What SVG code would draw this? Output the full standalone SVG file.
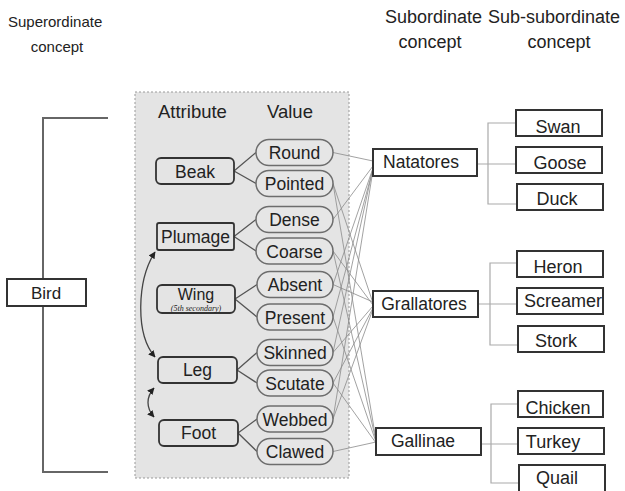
<svg xmlns="http://www.w3.org/2000/svg" width="625" height="491" viewBox="0 0 625 491">
  <defs>
    <style>
      text { font-family: "Liberation Sans", Arial, sans-serif; fill: #222; }
      .hdr { font-size: 15px; }
      .hdr2 { font-size: 18px; }
      .col { font-size: 18.5px; }
      .lbl { font-size: 17.5px; text-anchor: middle; }
      .attr { fill: none; stroke: #333; stroke-width: 1.8; }
      .val { fill: #e6e6e6; stroke: #6d6d6d; stroke-width: 1.5; }
      .box { fill: #fff; stroke: #333; stroke-width: 2; }
      .av { stroke: #555; stroke-width: 1.3; fill: none; }
      .vs { stroke: #8a8a8a; stroke-width: 0.8; fill: none; }
      .tree { stroke: #aaa; stroke-width: 1.2; fill: none; }
      .bracket { stroke: #666; stroke-width: 2; fill: none; }
      .rel { stroke: #444; stroke-width: 1.3; fill: none; }
    </style>
    <marker id="tip" viewBox="0 0 10 10" refX="9" refY="5" markerWidth="7" markerHeight="7" orient="auto-start-reverse" markerUnits="userSpaceOnUse">
      <path d="M0,0 L10,5 L0,10 z" fill="#222"/>
    </marker>
  </defs>

  <!-- column headings -->
  <g id="headings">
    <text class="hdr" x="8" y="27">Superordinate</text>
    <text class="hdr" x="57" y="52" text-anchor="middle">concept</text>
    <text class="hdr2" x="385" y="23">Subordinate</text>
    <text class="hdr2" x="430" y="48" text-anchor="middle">concept</text>
    <text class="hdr2" x="488" y="23">Sub-subordinate</text>
    <text class="hdr2" x="559" y="48" text-anchor="middle">concept</text>
  </g>

  <!-- bracket grouping everything under Bird -->
  <path class="bracket" d="M108,118 H43 V472 H108"/>
  <g id="bird">
    <rect class="box" x="7" y="279" width="79" height="27"/>
    <text class="lbl" x="46" y="299" style="font-size:17px">Bird</text>
  </g>

  <!-- attribute / value panel -->
  <rect x="135" y="92" width="214" height="386" fill="#e4e4e4" stroke="#999" stroke-width="1" stroke-dasharray="2 2"/>
  <text class="col" x="158" y="118">Attribute</text>
  <text class="col" x="267" y="118">Value</text>

  <!-- connectors -->
  <g id="connectors">
    <!-- attribute to value -->
    <path class="av" d="M234,171 L256,152.5 M234,171 L256,183.5"/>
    <path class="av" d="M234,236.5 L256,219.5 M234,236.5 L256,251"/>
    <path class="av" d="M235,299 L257,284.5 M235,299 L257,317"/>
    <path class="av" d="M237,370 L257,352.5 M237,370 L257,383"/>
    <path class="av" d="M238,433 L257,419 M238,433 L257,451.5"/>
    <!-- value to subordinate concept -->
    <path class="vs" d="M333,152.5 L373,161"/>
    <path class="vs" d="M333,183.5 L373,303 M333,183.5 L376,440"/>
    <path class="vs" d="M333,219.5 L373,166"/>
    <path class="vs" d="M333,251 L373,305 M333,251 L376,441"/>
    <path class="vs" d="M333,284.5 L373,302 M333,284.5 L373,168"/>
    <path class="vs" d="M333,317 L376,442 M333,317 L373,169"/>
    <path class="vs" d="M333,352.5 L373,168 M333,352.5 L373,306"/>
    <path class="vs" d="M333,383 L376,443 M333,383 L373,308"/>
    <path class="vs" d="M333,419 L373,170 M333,419 L373,309"/>
    <path class="vs" d="M333,451.5 L376,442"/>
    <!-- relations between attributes -->
    <path class="rel" d="M155,252 C137,280 135,334 155,357" marker-start="url(#tip)" marker-end="url(#tip)"/>
    <path class="rel" d="M154,388 C146,397 146,408 154,417" marker-start="url(#tip)" marker-end="url(#tip)"/>
    <!-- subordinate to sub-subordinate -->
    <path class="tree" d="M516,123 H488 V204 H520 M477,164 H516"/>
    <path class="tree" d="M517,263 H490 V345 H520 M478,304 H517"/>
    <path class="tree" d="M518,404 H491 V483 H520 M481,444 H518"/>
  </g>

  <!-- attributes -->
  <g id="attr-beak"><rect class="attr" x="156" y="158" width="78" height="26" rx="5"/><text class="lbl" x="195" y="178">Beak</text></g>
  <g id="attr-plumage"><rect class="attr" x="157" y="223" width="77" height="27" rx="2"/><text class="lbl" x="195.5" y="243">Plumage</text></g>
  <g id="attr-wing"><rect class="attr" x="157" y="285" width="78" height="28" rx="5"/><text class="lbl" x="196" y="300" style="font-size:16px">Wing</text><text x="196" y="310.5" text-anchor="middle" style="font-family:'Liberation Serif','Times New Roman',serif;font-style:italic;font-size:8px">(5th secondary)</text></g>
  <g id="attr-leg"><rect class="attr" x="158" y="357" width="79" height="26" rx="5"/><text class="lbl" x="197.5" y="376">Leg</text></g>
  <g id="attr-foot"><rect class="attr" x="159" y="420" width="79" height="26" rx="5"/><text class="lbl" x="198.5" y="439">Foot</text></g>

  <!-- values -->
  <g id="val-round"><rect class="val" x="256" y="139.5" width="77" height="26" rx="13"/><text class="lbl" x="294.5" y="159">Round</text></g>
  <g id="val-pointed"><rect class="val" x="256" y="170.5" width="77" height="26" rx="13"/><text class="lbl" x="294.5" y="190">Pointed</text></g>
  <g id="val-dense"><rect class="val" x="256" y="206.5" width="77" height="26" rx="13"/><text class="lbl" x="294.5" y="226">Dense</text></g>
  <g id="val-coarse"><rect class="val" x="256" y="238" width="77" height="26" rx="13"/><text class="lbl" x="294.5" y="257.5">Coarse</text></g>
  <g id="val-absent"><rect class="val" x="257" y="271.5" width="76" height="26" rx="13"/><text class="lbl" x="295" y="291">Absent</text></g>
  <g id="val-present"><rect class="val" x="257" y="304" width="76" height="26" rx="13"/><text class="lbl" x="295" y="323.5">Present</text></g>
  <g id="val-skinned"><rect class="val" x="257" y="339.5" width="76" height="26" rx="13"/><text class="lbl" x="295" y="359">Skinned</text></g>
  <g id="val-scutate"><rect class="val" x="257" y="370" width="76" height="26" rx="13"/><text class="lbl" x="295" y="389.5">Scutate</text></g>
  <g id="val-webbed"><rect class="val" x="257" y="406" width="76" height="26" rx="13"/><text class="lbl" x="295" y="425.5">Webbed</text></g>
  <g id="val-clawed"><rect class="val" x="257" y="438.5" width="76" height="26" rx="13"/><text class="lbl" x="295" y="458">Clawed</text></g>

  <!-- subordinate concepts -->
  <g id="natatores"><rect class="box" x="373" y="149" width="104" height="27"/><text class="lbl" x="421" y="168">Natatores</text></g>
  <g id="grallatores"><rect class="box" x="373" y="291" width="105" height="26"/><text class="lbl" x="424" y="310">Grallatores</text></g>
  <g id="gallinae"><rect class="box" x="376" y="428" width="105" height="27"/><text class="lbl" x="423" y="447">Gallinae</text></g>

  <!-- sub-subordinate concepts -->
  <g id="swan"><rect class="box" x="516" y="110" width="86" height="26"/><text class="lbl" x="558" y="133" style="font-size:18px">Swan</text></g>
  <g id="goose"><rect class="box" x="516" y="147" width="86" height="26"/><text class="lbl" x="560" y="169" style="font-size:18px">Goose</text></g>
  <g id="duck"><rect class="box" x="517" y="184" width="86" height="26"/><text class="lbl" x="557" y="205" style="font-size:18px">Duck</text></g>
  <g id="heron"><rect class="box" x="517" y="251" width="86" height="26"/><text class="lbl" x="558" y="273" style="font-size:18px">Heron</text></g>
  <g id="screamer"><rect class="box" x="517" y="288" width="86" height="26"/><text class="lbl" x="563" y="307" style="font-size:18px">Screamer</text></g>
  <g id="stork"><rect class="box" x="518" y="326" width="86" height="26"/><text class="lbl" x="556" y="347" style="font-size:18px">Stork</text></g>
  <g id="chicken"><rect class="box" x="518" y="391" width="85" height="26"/><text class="lbl" x="558" y="414" style="font-size:18px">Chicken</text></g>
  <g id="turkey"><rect class="box" x="518" y="428" width="86" height="26"/><text class="lbl" x="553" y="448" style="font-size:18px">Turkey</text></g>
  <g id="quail"><rect class="box" x="519" y="465" width="86" height="27"/><text class="lbl" x="557" y="484" style="font-size:18px">Quail</text></g>
</svg>
